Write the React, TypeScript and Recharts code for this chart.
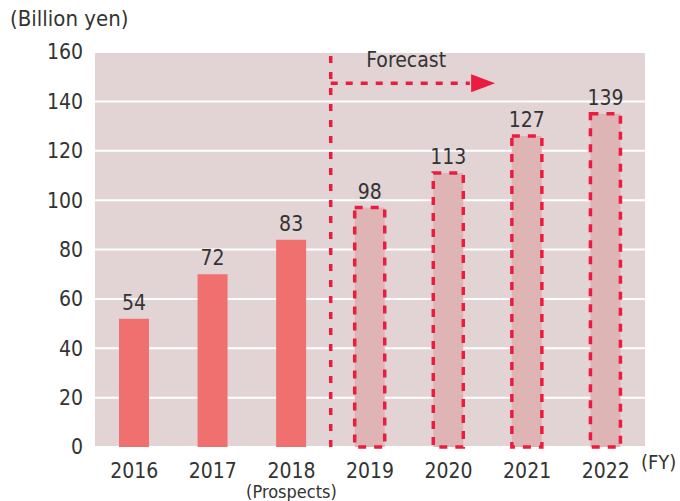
import { BarChart, Bar, XAxis, YAxis, CartesianGrid, Cell, LabelList, ReferenceLine, ReferenceDot } from 'recharts'

const years = ['2016', '2017', '2018', '2019', '2020', '2021', '2022']
// bar heights as drawn, labels as printed
const barValues = [52, 70, 84, 97, 111, 126, 135]
const labelValues = [54, 72, 83, 98, 113, 127, 139]
const isForecast = [false, false, false, true, true, true, true]
const yTicks = [0, 20, 40, 60, 80, 100, 120, 140, 160]

const FONT = "'DejaVu Sans Condensed', 'Liberation Sans', sans-serif"
const TEXT = '#333333'
const RED = '#ec1c40'

const data = years.map((year, i) => ({
  pos: i,
  year,
  value: barValues[i],
  label: labelValues[i],
}))

function YearTick(props: any) {
  const { x, y, payload } = props
  const year = years[payload.value]
  return (
    <g>
      <text x={x} y={y + 23} textAnchor="middle" fill={TEXT} fontSize={21} fontFamily={FONT}>
        {year}
      </text>
      {year === '2018' && (
        <text x={x} y={y + 43} textAnchor="middle" fill={TEXT} fontSize={18} fontFamily={FONT}>
          (Prospects)
        </text>
      )}
    </g>
  )
}

function Arrowhead(props: any) {
  const { cx, cy } = props
  return <polygon points={`${cx - 12},${cy - 9} ${cx + 12},${cy} ${cx - 12},${cy + 9}`} fill={RED} />
}

function ForecastText(props: any) {
  const { cx, cy } = props
  return (
    <text x={cx} y={cy} textAnchor="middle" fill={TEXT} fontSize={21} fontFamily={FONT}>
      Forecast
    </text>
  )
}

export default function App() {
  return (
    <div style={{ position: 'absolute', left: 0, top: 0, width: 680, height: 501, background: '#fff' }}>
      <div style={{ position: 'absolute', left: 10, top: 6, fontSize: 22, fontFamily: FONT, color: TEXT }}>
        (Billion yen)
      </div>
      <div style={{ position: 'absolute', left: 641, top: 450, fontSize: 20, fontFamily: FONT, color: TEXT }}>
        (FY)
      </div>
      <BarChart width={680} height={501} data={data} margin={{ top: 52, right: 35, bottom: 0, left: 0 }}>
        <CartesianGrid vertical={false} stroke="#ffffff" strokeWidth={2} fill="#e2d4d5" />
        <XAxis
          dataKey="pos"
          type="number"
          domain={[-0.5, 6.5]}
          ticks={[0, 1, 2, 3, 4, 5, 6]}
          axisLine={false}
          tickLine={false}
          tick={<YearTick />}
          height={54}
        />
        <YAxis
          domain={[0, 160]}
          ticks={yTicks}
          width={95}
          axisLine={false}
          tickLine={false}
          tickMargin={6}
          tick={{ fill: TEXT, fontSize: 21, fontFamily: FONT }}
        />
        <Bar dataKey="value" barSize={30} isAnimationActive={false}>
          {data.map((d, i) => (
            <Cell
              key={d.year}
              fill={isForecast[i] ? '#dfb4b4' : '#f07070'}
              stroke={isForecast[i] ? RED : 'none'}
              strokeWidth={isForecast[i] ? 3.5 : 0}
              strokeDasharray={isForecast[i] ? '8 8' : undefined}
            />
          ))}
          <LabelList dataKey="label" position="top" offset={9} fill={TEXT} fontSize={21} fontFamily={FONT} />
        </Bar>
        <ReferenceLine x={2.5} stroke={RED} strokeWidth={3.5} strokeDasharray="7 9" />
        <ReferenceLine
          segment={[{ x: 2.5, y: 147.3 }, { x: 4.27, y: 147.3 }]}
          stroke={RED}
          strokeWidth={3.5}
          strokeDasharray="7 8"
        />
        <ReferenceDot x={4.44} y={147.3} r={1} shape={<Arrowhead />} />
        <ReferenceDot x={3.46} y={154.1} r={1} shape={<ForecastText />} />
      </BarChart>
    </div>
  )
}
